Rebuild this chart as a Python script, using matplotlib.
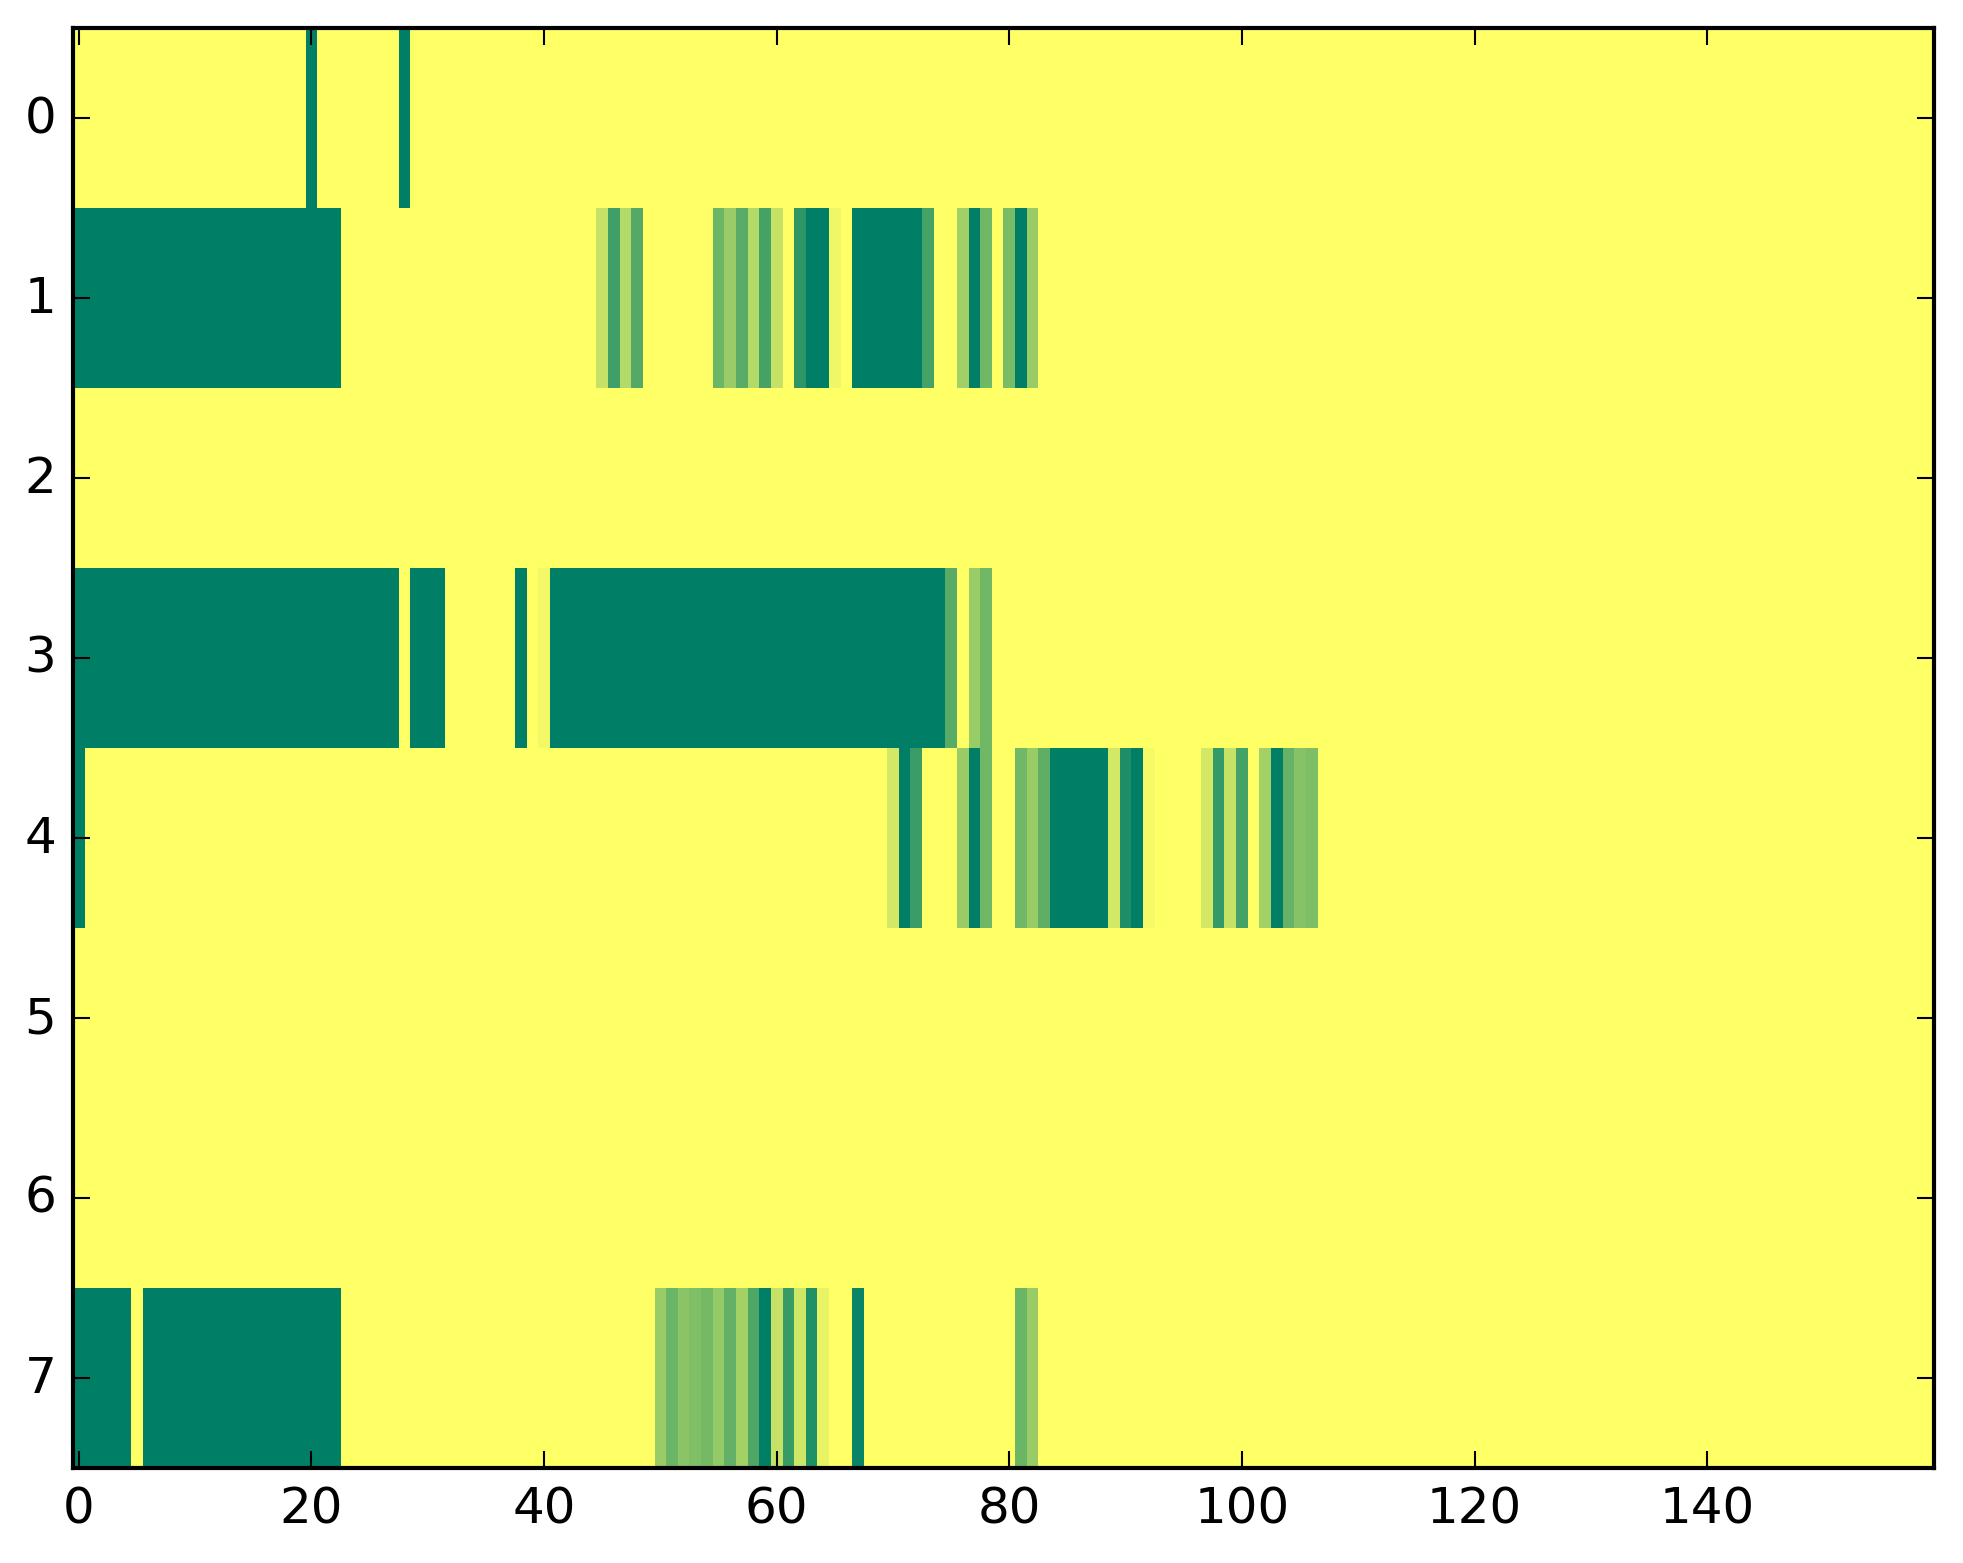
import matplotlib
matplotlib.use('Agg')
import matplotlib.pyplot as plt
import numpy as np

plt.style.use('classic')

# Data: one list per row, 160 columns each (1 = yellow, 0 = dark green)
row0 = [1]*20 + [0] + [1]*7 + [0] + [1]*131
row1 = ([0]*23 + [1]*22 + [0.77, 0.25, 0.7, 0.33] + [1]*6
        + [0.42, 0.6, 0.35, 0.7, 0.27, 0.77, 1, 0.18, 0, 0, 0.94, 1]
        + [0]*6 + [0.27, 1, 1, 0.63, 0, 0.44, 1, 0.48, 0, 0.6] + [1]*77)
row2 = [1]*160
row3 = ([0]*28 + [1] + [0]*3 + [1]*6 + [0] + [1, 0.95] + [0]*34
        + [0.35, 1, 0.6, 0.44] + [1]*81)
row4 = ([0] + [1]*69 + [0.83, 0, 0.23] + [1]*3
        + [0.6, 0, 0.44, 1, 1, 0.44, 0.6, 0.37] + [0]*5
        + [0.83, 0.12, 0, 0.96] + [1]*4
        + [0.83, 0.2, 0.77, 0.27, 1, 0.64, 0, 0.4, 0.53, 0.49] + [1]*53)
row5 = [1]*160
row6 = [1]*160
row7 = ([0]*5 + [1] + [0]*17 + [1]*27
        + [0.6, 0.42, 0.54, 0.5, 0.45, 0.58, 0.39, 0.64, 0.31, 0, 0.77,
           0.22, 0.81, 0.13, 0.91, 1, 1, 0.04]
        + [1]*13 + [0.42, 0.6] + [1]*77)

data = np.array([row0, row1, row2, row3, row4, row5, row6, row7], dtype=float)

fig = plt.figure(figsize=(1963/300, 1564/300), dpi=300)
ax = fig.add_axes([73/1963, 95/1564, 1861/1963, 1440/1564])
ax.imshow(data, cmap='summer', vmin=0, vmax=1, aspect='auto',
          interpolation='nearest')
ax.set_xticks(np.arange(0, 160, 20))
ax.set_yticks(np.arange(0, 8))

fig.savefig('out.png', dpi=300)
